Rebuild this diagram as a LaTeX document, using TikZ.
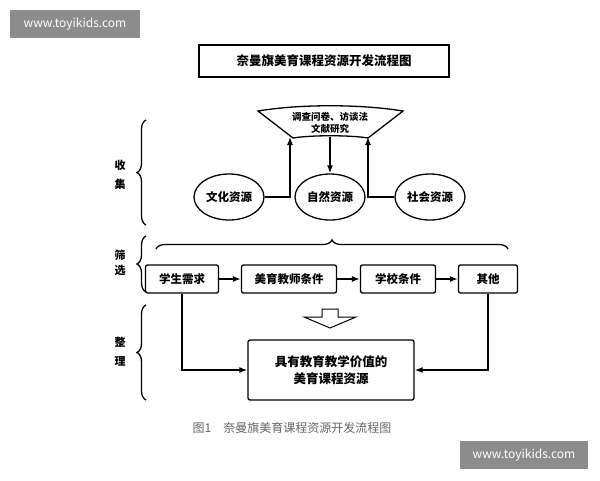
\documentclass[tikz,border=0pt]{standalone}
\usepackage{fontspec}
\setmainfont{Noto Sans CJK SC}
\usetikzlibrary{arrows.meta,shapes.geometric,decorations.pathreplacing,calc}
\begin{document}
\begin{tikzpicture}[x=1pt,y=-1pt,
  line width=1.3pt,
  bx/.style={draw,rounded corners=2pt,font=\bfseries\fontsize{11.5}{13}\selectfont,inner sep=0pt},
  el/.style={draw,ellipse,minimum width=70pt,minimum height=46pt,inner sep=0pt,font=\bfseries\fontsize{11.5}{13}\selectfont},
  ar/.style={-{Latex[length=8pt,width=6pt]}},
  br/.style={decorate,decoration={brace,amplitude=9pt}},
  lab/.style={font=\bfseries\fontsize{11}{15}\selectfont,align=center},
  wm/.style={fill=black!45,text=white,font=\fontsize{12}{14}\selectfont,inner sep=0pt}]
\useasboundingbox (0,0) rectangle (600,480);
\fill[white] (0,0) rectangle (600,480);
\node[wm,minimum width=130pt,minimum height=28pt] (wm1) at (75,24) {www.toyikids.com};
\node[wm,minimum width=128pt,minimum height=28pt] (wm2) at (524,455) {www.toyikids.com};
\node[bx,minimum width=250pt,minimum height=32pt,rounded corners=0pt,font=\bfseries\fontsize{12.5}{14}\selectfont] (title) at (324,61) {奈曼旗美育课程资源开发流程图};
% trapezoid
\draw (258,111) .. controls (300,104) and (360,104) .. (403,111) -- (368,138) .. controls (350,135) and (311,135) .. (293,138) -- cycle;
\node[font=\bfseries\fontsize{9.5}{11.5}\selectfont,align=center] (trap) at (330,123) {调查问卷、访谈法\\文献研究};
\coordinate (tl) at (290,137);
\coordinate (tm) at (330,137);
\coordinate (tr) at (368,137);
\node[el] (wh) at (229,197) {文化资源};
\node[el] (zr) at (330,197) {自然资源};
\node[el] (sh) at (430,197) {社会资源};
\draw[ar] (wh.east) -| (tl);
\draw[ar] (tm) -- (zr.north);
\draw[ar] (sh.west) -| (tr);
% braces
\draw[br] (146,225) -- (146,120);
\draw[br] (146,292) -- (146,236);
\draw[br] (146,400) -- (146,305);
\node[lab] (l1) at (120,175) {收\\[4pt]集};
\node[lab] (l2) at (120,263) {筛\\选};
\node[lab] (l3) at (120,352) {整\\[4pt]理};
\draw[br] (156,249) -- (508,249);
\node[bx,minimum width=73pt,minimum height=28pt] (b1) at (182,279) {学生需求};
\node[bx,minimum width=95pt,minimum height=28pt] (b2) at (289,279) {美育教师条件};
\node[bx,minimum width=75pt,minimum height=28pt] (b3) at (398,279) {学校条件};
\node[bx,minimum width=59pt,minimum height=28pt] (b4) at (488,279) {其他};
\draw[ar] (b1) -- (b2);
\draw[ar] (b2) -- (b3);
\draw[ar] (b3) -- (b4);
\draw[line width=1pt] (322,309) -- (338,309) -- (338,317) -- (356,317) -- (330,328) -- (304,317) -- (322,317) -- cycle;
\node[bx,minimum width=166pt,minimum height=60pt,align=center,font=\bfseries\fontsize{12.5}{17}\selectfont] (res) at (331,370) {具有教育教学价值的\\美育课程资源};
\draw[ar] (b1.south) |- (res.west);
\draw[ar] (b4.south) |- (res.east);
\node[text=black!60,font=\fontsize{12}{14}\selectfont] (cap) at (292,428) {图1\quad 奈曼旗美育课程资源开发流程图};
\end{tikzpicture}
\end{document}
